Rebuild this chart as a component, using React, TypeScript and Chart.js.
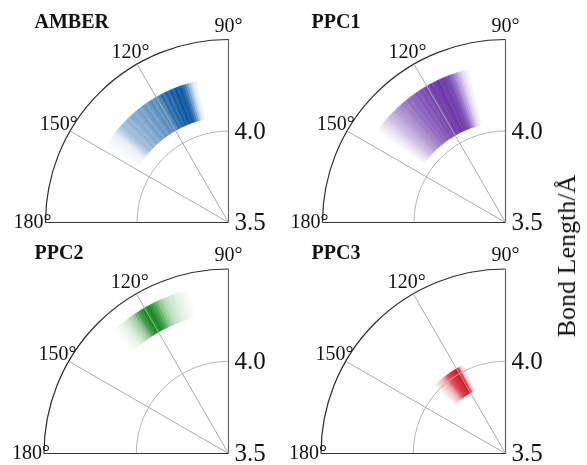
import React, { useEffect, useRef } from "react";
import { Chart, registerables } from "chart.js";

Chart.register(...registerables);

// ---------- data ----------
const axisTitle = "Bond Length/Å";
const thetaTicks = [90, 120, 150, 180];
const radialMin = 3.5;
const radialMax = 4.5;
const radialStep = 0.5;
const binWidth = 1; // degrees per angular bin

// AMBER
const amberAngles = [103, 104, 105, 106, 107, 108, 109, 110, 111, 112, 113, 114, 115, 116, 117, 118, 119, 120, 121, 122, 123, 124, 125, 126, 127, 128, 129, 130, 131, 132, 133, 134, 135, 136, 137, 138, 139, 140, 141, 142, 143, 144, 145, 146, 147];
const amberDensity = [0.08, 0.18, 0.35, 0.55, 0.75, 0.88, 0.97, 0.92, 1.0, 0.88, 0.96, 0.82, 0.92, 0.78, 0.86, 0.72, 0.66, 0.7, 0.6, 0.68, 0.62, 0.55, 0.62, 0.58, 0.5, 0.58, 0.52, 0.46, 0.52, 0.48, 0.42, 0.46, 0.4, 0.38, 0.4, 0.33, 0.28, 0.2, 0.13, 0.09, 0.07, 0.05, 0.04, 0.03, 0.02];
const amberInner = 4.08;
const amberOuter = 4.29;

// PPC1
const ppc1Angles = [104, 105, 106, 107, 108, 109, 110, 111, 112, 113, 114, 115, 116, 117, 118, 119, 120, 121, 122, 123, 124, 125, 126, 127, 128, 129, 130, 131, 132, 133, 134, 135, 136, 137, 138, 139, 140, 141, 142, 143];
const ppc1Density = [0.08, 0.15, 0.25, 0.38, 0.5, 0.65, 0.75, 0.85, 0.88, 0.92, 0.88, 0.96, 0.92, 0.88, 0.92, 0.84, 0.88, 0.8, 0.84, 0.76, 0.8, 0.72, 0.75, 0.68, 0.7, 0.62, 0.62, 0.56, 0.52, 0.5, 0.45, 0.4, 0.35, 0.33, 0.28, 0.22, 0.17, 0.13, 0.09, 0.05];
const ppc1Inner = 4.05;
const ppc1Outer = 4.36;

// PPC2
const ppc2Angles = [104, 105, 106, 107, 108, 109, 110, 111, 112, 113, 114, 115, 116, 117, 118, 119, 120, 121, 122, 123, 124, 125, 126, 127, 128, 129, 130, 131, 132];
const ppc2Density = [0.03, 0.05, 0.08, 0.1, 0.13, 0.17, 0.2, 0.25, 0.3, 0.4, 0.5, 0.65, 0.8, 0.9, 1.0, 0.95, 1.0, 0.9, 0.8, 0.6, 0.45, 0.35, 0.28, 0.2, 0.15, 0.1, 0.07, 0.04, 0.02];
const ppc2Inner = 4.26;
const ppc2Outer = 4.41;

// PPC3
const ppc3Angles = [116, 117, 118, 119, 120, 121, 122, 123, 124, 125, 126, 127, 128, 129, 130, 131, 132, 133, 134, 135];
const ppc3Density = [0.1, 0.3, 0.7, 0.95, 1.0, 0.95, 0.9, 0.9, 0.85, 0.8, 0.75, 0.65, 0.5, 0.4, 0.3, 0.25, 0.2, 0.15, 0.1, 0.05];
const ppc3Inner = 3.88;
const ppc3Outer = 4.03;

// ---------- layout / style ----------
const W = 587;
const H = 465;
const FONT = '"Liberation Serif", "Times New Roman", serif';

type PanelSpec = {
  name: string;
  angles: number[];
  density: number[];
  inner: number;
  outer: number;
  rgb: [number, number, number];
  cx: number;
  cy: number;
  R: number;
};

const panels: PanelSpec[] = [
  { name: "AMBER", angles: amberAngles, density: amberDensity, inner: amberInner, outer: amberOuter, rgb: [10, 85, 160], cx: 228.5, cy: 222.5, R: 183 },
  { name: "PPC1", angles: ppc1Angles, density: ppc1Density, inner: ppc1Inner, outer: ppc1Outer, rgb: [100, 45, 165], cx: 505.5, cy: 222.5, R: 183 },
  { name: "PPC2", angles: ppc2Angles, density: ppc2Density, inner: ppc2Inner, outer: ppc2Outer, rgb: [25, 140, 35], cx: 228.5, cy: 453.5, R: 184.5 },
  { name: "PPC3", angles: ppc3Angles, density: ppc3Density, inner: ppc3Inner, outer: ppc3Outer, rgb: [210, 20, 35], cx: 505.5, cy: 453.5, R: 184.5 },
];

function blend(rgb: [number, number, number], a: number): string {
  const c = rgb.map((v) => Math.round(255 - (255 - v) * Math.max(0, Math.min(1, a))));
  return `rgb(${c[0]},${c[1]},${c[2]})`;
}

function Panel({ spec }: { spec: PanelSpec }) {
  const ref = useRef<HTMLCanvasElement | null>(null);

  useEffect(() => {
    const canvas = ref.current;
    if (!canvas) return;

    // bins ordered from highest angle to lowest (arcs run clockwise on screen)
    const order = spec.angles.map((_, i) => i).sort((a, b) => spec.angles[b] - spec.angles[a]);
    const topAngle = Math.max(...spec.angles) + binWidth;
    const startAngle = ((90 - topAngle) % 360 + 360) % 360;
    const labels = order.map((i) => `${spec.angles[i]}°`);
    const values = order.map(() => spec.outer);
    const dens = order.map((i) => spec.density[i]);

    const quadrantPlugin = {
      id: "quadrant" + spec.name,
      afterLayout(chart: any) {
        const s = chart.scales.r;
        s.xCenter = spec.cx;
        s.yCenter = spec.cy;
        s.drawingArea = spec.R;
      },
      afterDatasetUpdate(chart: any, args: any) {
        const s = chart.scales.r;
        const innerPx = s.getDistanceFromCenterForValue(spec.inner);
        args.meta.data.forEach((arc: any) => {
          arc.innerRadius = innerPx;
        });
      },
      afterDatasetsDraw(chart: any) {
        const ctx = chart.ctx as CanvasRenderingContext2D;
        const s = chart.scales.r;
        const cx = s.xCenter;
        const cy = s.yCenter;
        const Rmax = s.getDistanceFromCenterForValue(s.max);
        ctx.save();
        // circular grid
        s.ticks.forEach((t: any) => {
          if (t.value <= s.min) return;
          const d = s.getDistanceFromCenterForValue(t.value);
          const outerArc = t.value >= s.max;
          ctx.beginPath();
          ctx.arc(cx, cy, d, Math.PI, 1.5 * Math.PI);
          ctx.strokeStyle = outerArc ? "#2a2a2a" : "#b4b4b4";
          ctx.lineWidth = outerArc ? 1.2 : 1;
          ctx.stroke();
        });
        // spokes
        thetaTicks.forEach((th) => {
          const a = (th * Math.PI) / 180;
          const edge = th === 90 || th === 180;
          ctx.beginPath();
          ctx.moveTo(cx, cy);
          ctx.lineTo(cx + Rmax * Math.cos(a), cy - Rmax * Math.sin(a));
          ctx.strokeStyle = th === 180 ? "#333" : edge ? "#666" : "#a8a8a8";
          ctx.lineWidth = edge ? 1.2 : 1;
          ctx.stroke();
        });
        // theta labels
        ctx.fillStyle = "#111";
        ctx.font = `20px ${FONT}`;
        ctx.textAlign = "center";
        ctx.textBaseline = "middle";
        thetaTicks.forEach((th) => {
          const a = (th * Math.PI) / 180;
          const rr = Rmax + 13;
          ctx.fillText(`${th}°`, cx + rr * Math.cos(a), cy - rr * Math.sin(a));
        });
        // radial tick labels
        ctx.font = `25px ${FONT}`;
        ctx.textAlign = "left";
        s.ticks.forEach((t: any) => {
          if (t.value >= s.max) return;
          const d = s.getDistanceFromCenterForValue(t.value);
          ctx.fillText(t.value.toFixed(1), cx + 6, cy - d + 1);
        });
        // panel name
        ctx.font = `bold 20px ${FONT}`;
        ctx.textAlign = "left";
        ctx.fillText(spec.name, cx - 194, cy - 200);
        ctx.restore();
      },
    };

    const chart = new Chart(canvas, {
      type: "polarArea",
      data: {
        labels,
        datasets: [
          {
            data: values,
            backgroundColor: (c: any) => blend(spec.rgb, dens[c.dataIndex] ?? 0),
            borderColor: (c: any) => blend(spec.rgb, dens[c.dataIndex] ?? 0),
            borderWidth: 0.8,
            angle: binWidth,
          } as any,
        ],
      },
      options: {
        responsive: false,
        animation: false,
        events: [],
        layout: { padding: 0 },
        plugins: { legend: { display: false }, tooltip: { enabled: false } },
        scales: {
          r: {
            min: radialMin,
            max: radialMax,
            beginAtZero: false,
            startAngle,
            ticks: { display: false, stepSize: radialStep },
            grid: { display: false },
            angleLines: { display: false },
            pointLabels: { display: false },
          },
        },
      } as any,
      plugins: [quadrantPlugin],
    });
    return () => chart.destroy();
  }, [spec]);

  return (
    <canvas
      ref={ref}
      width={W}
      height={H}
      style={{ position: "absolute", left: 0, top: 0, width: W, height: H }}
    />
  );
}

export default function App() {
  return (
    <div
      style={{
        position: "absolute",
        left: 0,
        top: 0,
        width: W,
        height: H,
        background: "#fff",
        overflow: "hidden",
      }}
    >
      {panels.map((p) => (
        <Panel key={p.name} spec={p} />
      ))}
      <div
        style={{
          position: "absolute",
          left: 567,
          top: 256,
          transform: "translate(-50%, -50%) rotate(-90deg)",
          fontFamily: FONT,
          fontSize: 26,
          color: "#111",
          whiteSpace: "nowrap",
          lineHeight: 1,
        }}
      >
        {axisTitle}
      </div>
    </div>
  );
}
